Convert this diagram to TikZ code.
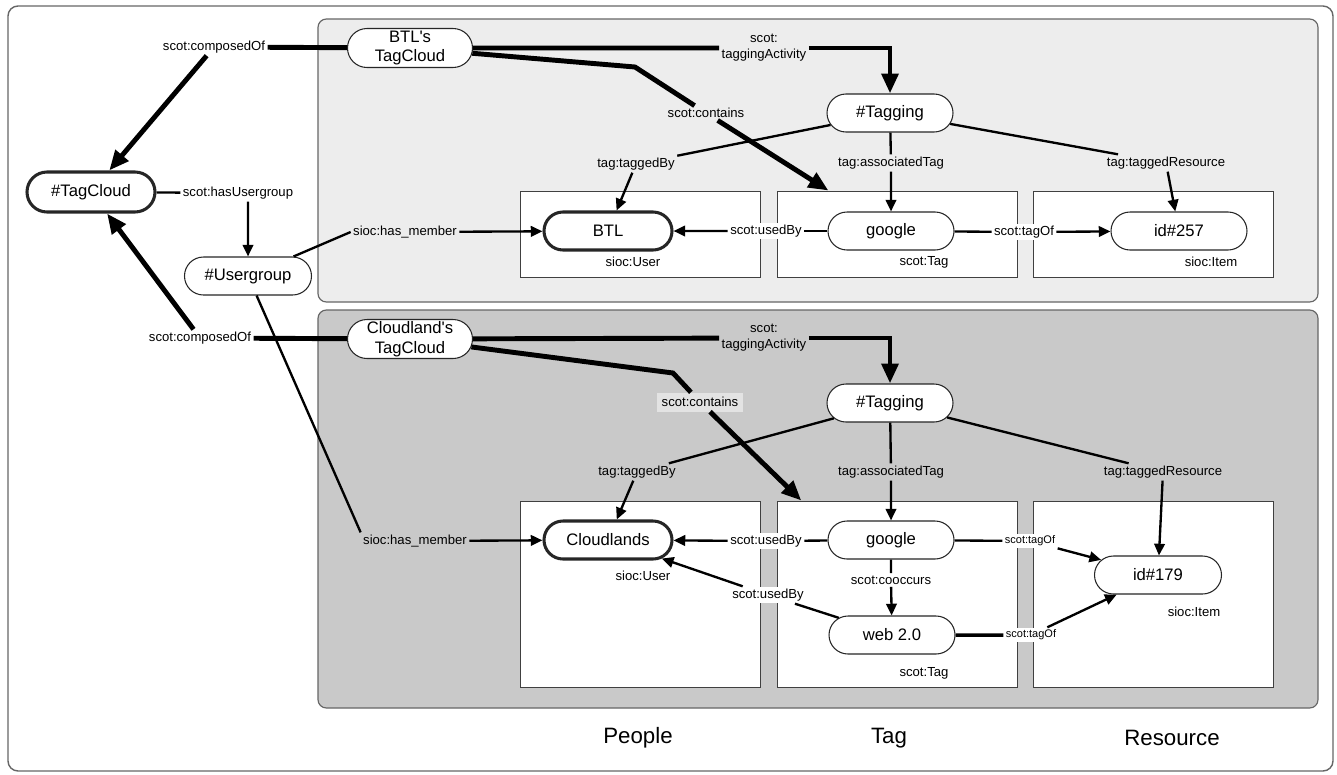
\documentclass[tikz,border=0pt]{standalone}
\usepackage{fontspec}
\setmainfont{Liberation Sans}
\usetikzlibrary{arrows.meta,shapes.misc}

\begin{document}
\begin{tikzpicture}[x=0.03cm,y=-0.03cm,
      pill/.style={draw=black!85,fill=white,rounded rectangle,line width=0.9pt,
         minimum width=3.78cm,minimum height=1.14cm,inner sep=0pt,align=center,
         font=\fontsize{14.2}{17}\selectfont},
      pillthick/.style={pill,line width=2.6pt},
      cell/.style={draw=black!75,fill=white,line width=0.8pt,minimum width=7.2cm},
      lbl/.style={inner sep=2pt,align=center,font=\fontsize{11.2}{13.6}\selectfont},
      lblsm/.style={lbl,font=\fontsize{9.4}{11}\selectfont},
      link/.style={line width=2pt},
      linkarr/.style={link,-{Triangle[length=10pt,width=9pt]}},
      heavy/.style={line width=4.2pt},
      heavyarr/.style={heavy,-{Triangle[length=17pt,width=14pt]}}]
   \useasboundingbox (0,0) rectangle (1337,774);
   \draw[black!60,line width=1.2pt,rounded corners=0.3cm] (8,6) rectangle (1333,771);
   % панели
   \draw[black!60,fill=black!7,line width=1pt,rounded corners=0.25cm] (318,19) rectangle (1318,302);
   \draw[black!60,fill=black!21,line width=1pt,rounded corners=0.25cm] (318,310) rectangle (1318,708);
   \node[cell,minimum height=2.58cm] (boxPA) at (640,234) {};
   \node[cell,minimum height=2.58cm] (boxTA) at (897,234) {};
   \node[cell,minimum height=2.58cm] (boxRA) at (1153,234) {};
   \node[cell,minimum height=5.58cm] (boxPB) at (640,594) {};
   \node[cell,minimum height=5.58cm] (boxTB) at (897,594) {};
   \node[cell,minimum height=5.58cm] (boxRB) at (1153,594) {};
   \node[lbl] (typePA) at (633,262) {sioc:User};
   \node[lbl] (typeTA) at (924,262) {scot:Tag};
   \node[lbl] (typeRA) at (1211,262) {sioc:Item};
   \node[lbl] (typePB) at (643,576) {sioc:User};
   \node[lbl] (typeTB) at (924,673) {scot:Tag};
   \node[lbl] (typeRB) at (1194,612) {sioc:Item};
   % узлы
   \node[pillthick,minimum width=3.84cm,minimum height=1.2cm] (tcloud) at (91,192) {\#TagCloud};
   \node[pill,minimum width=3.81cm] (ugroup) at (248,276) {\#Usergroup};
   \node[pill,minimum width=3.75cm,minimum height=1.17cm] (btlcloud) at (410,48) {BTL\textquotesingle s\\TagCloud};
   \node[pill] (tagA) at (890,113) {\#Tagging};
   \node[pillthick,minimum width=3.84cm] (btl) at (608,231) {BTL};
   \node[pill] (googA) at (891,231) {google};
   \node[pill,minimum width=4.08cm] (id257) at (1179,231) {id\#257};
   \node[pill,minimum width=3.75cm,minimum height=1.17cm] (cldcloud) at (410,339) {Cloudland\textquotesingle s\\TagCloud};
   \node[pill] (tagB) at (890,403) {\#Tagging};
   \node[pillthick,minimum width=3.84cm] (cld) at (608,540) {Cloudlands};
   \node[pill] (googB) at (891,540) {google};
   \node[pill] (web) at (892,635) {web 2.0};
   \node[pill,minimum width=3.81cm] (id179) at (1158,575) {id\#179};
   % подписи связей
   \node[lbl] (lcompA) at (214,47) {scot:composedOf};
   \node[lbl] (lhasug) at (238,193) {scot:hasUsergroup};
   \node[lbl] (lmemA) at (405,232) {sioc:has\_member};
   \node[lbl] (ltaA) at (764,48) {scot:\\taggingActivity};
   \node[lbl] (lcontA) at (706,113) {scot:contains};
   \node[lbl] (ltbyA) at (636,164) {tag:taggedBy};
   \node[lbl] (lassA) at (891,163) {tag:associatedTag};
   \node[lbl] (ltresA) at (1166,163) {tag:taggedResource};
   \node[lbl,fill=white] (lubyA) at (766,231) {scot:usedBy};
   \node[lbl,fill=white] (ltofA) at (1024,232) {scot:tagOf};
   \node[lbl] (lcompB) at (200,338) {scot:composedOf};
   \node[lbl] (lmemB) at (415,541) {sioc:has\_member};
   \node[lbl] (ltaB) at (764,338) {scot:\\taggingActivity};
   \node[lbl,fill=black!11,inner sep=4pt] (lcontB) at (700,402) {scot:contains};
   \node[lbl] (ltbyB) at (637,472) {tag:taggedBy};
   \node[lbl] (lassB) at (891,472) {tag:associatedTag};
   \node[lbl] (ltresB) at (1163,472) {tag:taggedResource};
   \node[lbl,fill=white] (lubyB) at (766,541) {scot:usedBy};
   \node[lbl,fill=white] (lubyC) at (768,595) {scot:usedBy};
   \node[lbl,fill=white] (lcooc) at (891,580) {scot:cooccurs};
   \node[lblsm,fill=white] (ltofB) at (1030,541) {scot:tagOf};
   \node[lblsm,fill=white] (ltofC) at (1031,635) {scot:tagOf};
   \coordinate (bendA) at (635,67);
   \coordinate (bendB) at (673,373);
   % связи
   \draw[heavy] (btlcloud) -- (lcompA);
   \draw[heavyarr] (lcompA) -- (tcloud);
   \draw[link] (tcloud) -- (lhasug);
   \draw[linkarr] (lhasug.south -| ugroup) -- (ugroup);
   \draw[link] (ugroup) -- (lmemA.west);
   \draw[linkarr] (lmemA) -- (btl);
   \draw[heavy] (btlcloud) -- (ltaA);
   \draw[heavyarr] (ltaA) -| (tagA);
   \draw[heavy] (btlcloud) -- (bendA) -- (lcontA);
   \draw[heavyarr] (lcontA) -- (boxTA);
   \draw[link] (tagA) -- (ltbyA);
   \draw[linkarr] (ltbyA) -- (btl);
   \draw[link] (tagA) -- (lassA);
   \draw[linkarr] (lassA) -- (googA);
   \draw[link] (tagA) -- (ltresA);
   \draw[linkarr] (ltresA) -- (id257);
   \draw[link] (googA) -- (lubyA);
   \draw[linkarr] (lubyA) -- (btl);
   \draw[link] (googA) -- (ltofA);
   \draw[linkarr] (ltofA) -- (id257);
   %
   \draw[heavy] (cldcloud) -- (lcompB);
   \draw[heavyarr] (lcompB) -- (tcloud);
   \draw[link] (ugroup) -- (lmemB.north west);
   \draw[linkarr] (lmemB) -- (cld);
   \draw[heavy] (cldcloud) -- (ltaB);
   \draw[heavyarr] (ltaB) -| (tagB);
   \draw[heavy] (cldcloud) -- (bendB) -- (lcontB);
   \draw[heavyarr] (lcontB) -- (boxTB);
   \draw[link] (tagB) -- (ltbyB);
   \draw[linkarr] (ltbyB) -- (cld);
   \draw[link] (tagB) -- (lassB);
   \draw[linkarr] (lassB) -- (googB);
   \draw[link] (tagB) -- (ltresB);
   \draw[linkarr] (ltresB) -- (id179);
   \draw[link] (googB) -- (lubyB);
   \draw[linkarr] (lubyB) -- (cld);
   \draw[link] (web) -- (lubyC);
   \draw[linkarr] (lubyC) -- (cld);
   \draw[link] (googB) -- (lcooc);
   \draw[linkarr] (lcooc) -- (web);
   \draw[link] (googB) -- (ltofB);
   \draw[linkarr] (ltofB) -- (id179);
   \draw[link,line width=3pt] (web) -- (ltofC);
   \draw[linkarr] (ltofC) -- (id179);
   % подписи колонок
   \node[font=\fontsize{19}{22}\selectfont] (colP) at (638,738) {People};
   \node[font=\fontsize{19}{22}\selectfont] (colT) at (889,738) {Tag};
   \node[font=\fontsize{19}{22}\selectfont] (colR) at (1172,738) {Resource};
\end{tikzpicture}
\end{document}
